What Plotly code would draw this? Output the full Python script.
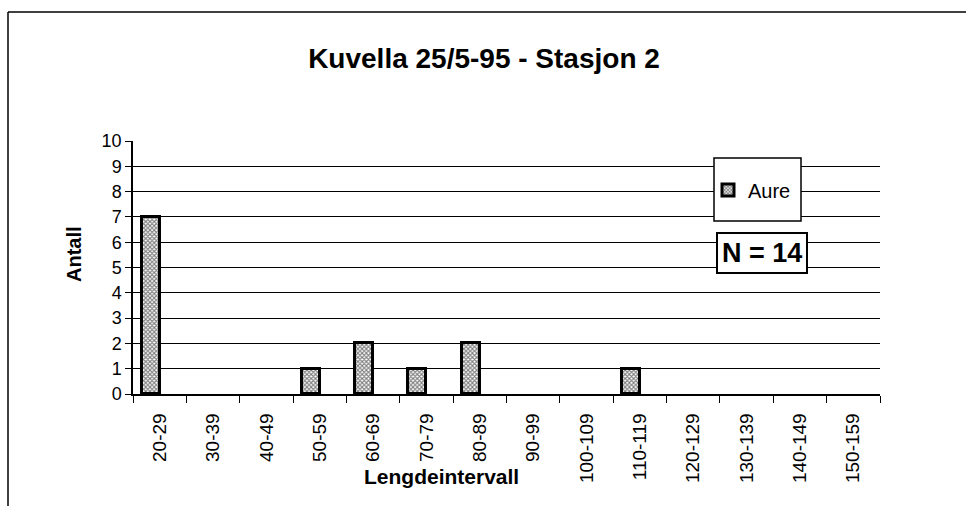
import plotly.graph_objects as go

categories = ["20-29", "30-39", "40-49", "50-59", "60-69", "70-79", "80-89",
              "90-99", "100-109", "110-119", "120-129", "130-139", "140-149", "150-159"]
aure = [7, 0, 0, 1, 2, 1, 2, 0, 0, 1, 0, 0, 0, 0]
y_ticks = list(range(0, 11))

W, H = 966, 506
L, T = 133, 141
R, B = 966 - 880, 506 - 394
pw, ph = W - L - R, H - T - B

def px(xs):
    return (xs - L) / pw

def py(ys):
    return (H - B - ys) / ph

fig = go.Figure()
fig.add_trace(go.Bar(
    x=categories, y=[v if v > 0 else None for v in aure], name="Aure",
    width=0.34, offset=-0.34,
    marker=dict(color="white", line=dict(color="black", width=3),
                pattern=dict(shape="x", fgcolor="black", bgcolor="white", size=3, solidity=0.6)),
))

fig.update_layout(
    width=W, height=H,
    margin=dict(l=L, r=R, t=T, b=B),
    paper_bgcolor="white", plot_bgcolor="white",
    font=dict(family="Liberation Sans, Arial, sans-serif", color="black", size=17),
    title=dict(text="<b>Kuvella 25/5-95 - Stasjon 2</b>", x=484 / W, xref="container",
               xanchor="center", y=1 - 58 / H, yanchor="middle", font=dict(size=28)),
    bargap=0,
    showlegend=True,
    legend=dict(x=px(708), y=py(190), xanchor="left", yanchor="middle",
                borderwidth=0, bgcolor="rgba(0,0,0,0)",
                font=dict(size=20), itemwidth=30),
    xaxis=dict(type="category", range=[-0.5, 13.5], showgrid=False,
               showline=True, linecolor="black", linewidth=1.5,
               ticks="outside", ticklen=7, tickcolor="black", tickwidth=1.2,
               tickson="boundaries", tickangle=-90, ticklabelstandoff=10,
               tickfont=dict(size=19)),
    yaxis=dict(range=[0, 10], tickvals=y_ticks, showgrid=True, gridcolor="black",
               gridwidth=1.2, showline=True, linecolor="black", linewidth=1.5,
               ticks="outside", ticklen=6, tickcolor="black", zeroline=False,
               tickfont=dict(size=18)),
)

# axis titles, placed where the original puts them
fig.add_annotation(text="<b>Lengdeintervall</b>", xref="paper", yref="paper",
                   x=px(441), y=py(476), xanchor="center", yanchor="middle",
                   showarrow=False, font=dict(size=21))
fig.add_annotation(text="<b>Antall</b>", xref="paper", yref="paper",
                   x=px(74), y=py(254), xanchor="center", yanchor="middle",
                   textangle=-90, showarrow=False, font=dict(size=20))

# legend box
fig.add_shape(type="rect", xref="paper", yref="paper",
              x0=px(714), x1=px(801), y0=py(221), y1=py(158),
              line=dict(color="black", width=1.5), fillcolor="white", layer="above")

fig.add_annotation(text="<b>N = 14</b>", xref="paper", yref="paper",
                   x=px(762), y=py(253), xanchor="center", yanchor="middle",
                   showarrow=False, font=dict(size=27), bgcolor="white",
                   bordercolor="black", borderwidth=2, borderpad=4)

# outer frame
fig.add_shape(type="line", xref="paper", yref="paper",
              x0=px(8), x1=px(8), y0=py(12), y1=py(520),
              line=dict(color="black", width=1.5))
fig.add_shape(type="line", xref="paper", yref="paper",
              x0=px(8), x1=px(975), y0=py(12), y1=py(12),
              line=dict(color="black", width=1.5))

fig.write_html("out.html", config={"displayModeBar": False},
               post_script="document.body.style.margin='0px';")
